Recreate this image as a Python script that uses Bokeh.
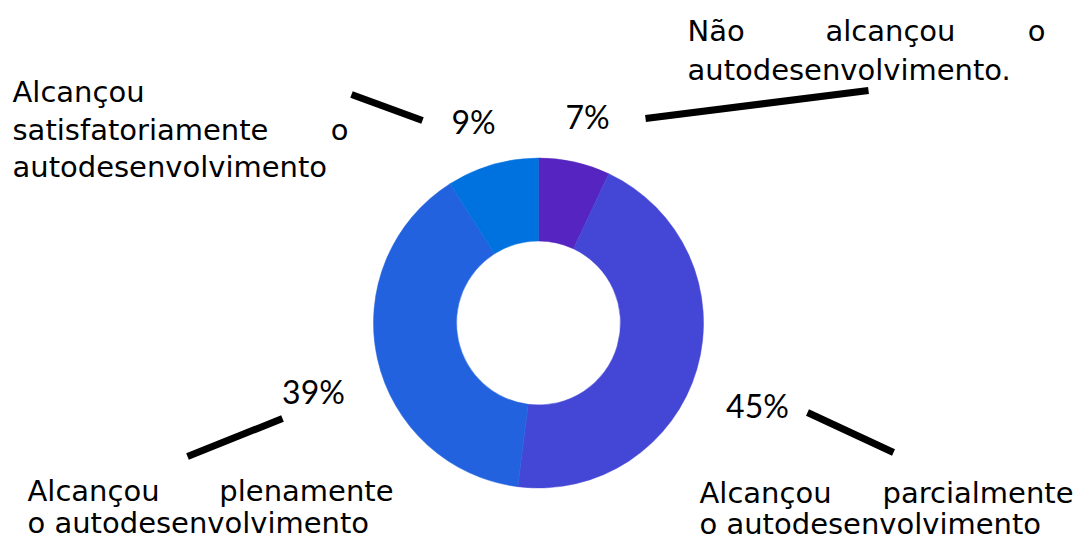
import numpy as np
from bokeh.plotting import figure
from bokeh.models import ColumnDataSource, Range1d, Label
from bokeh.embed import file_html
from bokeh.resources import INLINE

# ---- data ----
categories = [
    "Não alcançou o autodesenvolvimento.",
    "Alcançou parcialmente o autodesenvolvimento",
    "Alcançou plenamente o autodesenvolvimento",
    "Alcançou satisfatoriamente o autodesenvolvimento",
]
values = [7, 45, 39, 9]
pct_labels = ["7%", "45%", "39%", "9%"]
colors = ["#5524C1", "#4447D6", "#2362DE", "#0072DF"]

# ---- layout (picture pixels) ----
W, H = 1075, 541
TOP = 557
def sy(y):  # picture y -> data y
    return TOP - y

CX, CY = 538, 322.5
R_IN, R_OUT = 82, 165

p = figure(width=W, height=H, output_backend="svg", toolbar_location=None,
           x_range=Range1d(0, W), y_range=Range1d(TOP - H, TOP),
           x_axis_location=None, y_axis_location=None, min_border=0)
p.outline_line_color = None
p.grid.visible = False
p.background_fill_color = "white"
p.border_fill_color = "white"

frac = np.array(values, dtype=float) / sum(values)
cum = np.cumsum(frac)
start = np.pi / 2 - (cum - frac) * 2 * np.pi
end = np.pi / 2 - cum * 2 * np.pi
src = ColumnDataSource(dict(cat=categories, val=values, start=start, end=end, color=colors))
p.annular_wedge(x=CX, y=sy(CY), inner_radius=R_IN, outer_radius=R_OUT,
                start_angle="start", end_angle="end", direction="clock",
                fill_color="color", line_color="color", line_width=0.5, source=src)

# leader lines
leaders = [
    ((645, 118), (868, 90)),   # 7%
    ((807, 412), (893, 452)),  # 45%
    ((187, 456), (282, 418)),  # 39%
    ((351, 94), (422, 120)),   # 9%
]
for (x0, y0), (x1, y1) in leaders:
    p.line([x0, x1], [sy(y0), sy(y1)], line_color="black", line_width=7, line_cap="butt")

# percentage labels (baseline positions, corrected for renderer offset)
PCT_SHIFT = 12
pct_pos = [(587, 128), (757, 417), (313, 403), (473, 133)]
for lab, (x, y) in zip(pct_labels, pct_pos):
    p.add_layout(Label(x=x, y=sy(y - PCT_SHIFT), text=lab, text_align="center",
                       text_baseline="alphabetic",
                       text_font="Lato", text_font_size="32px", text_color="black"))

BODY_FONT = "DejaVu Sans"
BODY_SIZE = "29px"
BODY_SHIFT = 11
def word(t, x, y, align="left"):
    p.add_layout(Label(x=x, y=sy(y - BODY_SHIFT), text=t, text_align=align,
                       text_baseline="alphabetic",
                       text_font=BODY_FONT, text_font_size=BODY_SIZE, text_color="black"))

# top-left: satisfatoriamente
word("Alcançou", 12, 102)
word("satisfatoriamente", 12, 140)
word("o", 348, 140, "right")
word("autodesenvolvimento", 12, 177)

# top-right: não alcançou
word("Não", 687, 41)
word("alcançou", 890, 41, "center")
word("o", 1045, 41, "right")
word("autodesenvolvimento.", 687, 80)

# bottom-left: plenamente
word("Alcançou", 27, 501)
word("plenamente", 393, 501, "right")
word("o autodesenvolvimento", 27, 533)

# bottom-right: parcialmente
word("Alcançou", 699, 503)
word("parcialmente", 1073, 503, "right")
word("o autodesenvolvimento", 699, 534)

open("out.html", "w").write(file_html(p, INLINE))
